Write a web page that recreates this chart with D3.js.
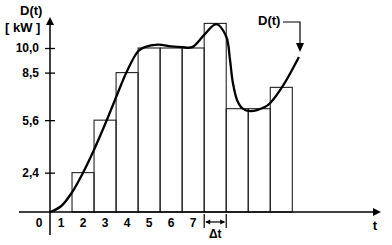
<!DOCTYPE html>
<html><head><meta charset="utf-8">
<script src="https://cdn.jsdelivr.net/npm/d3@7/dist/d3.min.js"></script>
<style>body{margin:0;background:#fff}text{font-family:"Liberation Sans",Arial,sans-serif;font-weight:bold;fill:#000}</style>
</head><body>
<svg id="c" width="392" height="245"></svg>
<script>
// Data
const barIntervals = [1,2,3,4,5,6,7,8,9,10,11];
const barValues = [0, 2.4, 5.6, 8.5, 10.0, 10.0, 10.0, 11.5, 6.3, 6.3, 7.6];
const curveT = [0, 0.5, 1, 1.5, 2, 2.5, 3, 3.5, 4, 4.3, 4.9, 5.5, 6, 6.45, 7, 7.55, 8, 8.17, 8.3, 8.5, 8.75, 9.1, 9.75, 10, 10.6, 11.3];
const curveD = [0, 0.35, 1.2, 2.4, 3.8, 5.35, 7.0, 8.6, 9.8, 10.05, 10.2, 10.1, 10.05, 10.05, 10.8, 11.45, 10.7, 9.3, 7.9, 6.8, 6.3, 6.15, 6.4, 6.65, 7.75, 9.45];
const yTickValues = [2.4, 5.6, 8.5, 10.0];
const yTickLabels = ["2,4", "5,6", "8,5", "10,0"];
const xLabels = ["0","1","2","3","4","5","6","7"];

const svg = d3.select("#c");
const x = d3.scaleLinear().domain([0, 11]).range([50, 292.3]);
const y = d3.scaleLinear().domain([0, 10]).range([212, 48]);

// bars
svg.append("g").selectAll("rect")
  .data(barIntervals.map((k,i)=>({k, v: barValues[i]})).filter(d=>d.v>0))
  .join("rect")
  .attr("x", d=>x(d.k-1)).attr("width", d=>x(d.k)-x(d.k-1))
  .attr("y", d=>y(d.v)).attr("height", d=>y(0)-y(d.v))
  .attr("fill","none").attr("stroke","#222").attr("stroke-width",1.1);

// curve
const line = d3.line().x(d=>x(d[0])).y(d=>y(d[1])).curve(d3.curveCatmullRom.alpha(0.5));
svg.append("path").datum(curveT.map((t,i)=>[t, curveD[i]]))
  .attr("d", line).attr("fill","none").attr("stroke","#000").attr("stroke-width",2.3);

// axes lines
const x0 = x(0), y0 = y(0);
svg.append("line").attr("x1",19).attr("x2",376).attr("y1",y0).attr("y2",y0).attr("stroke","#000").attr("stroke-width",1.5);
svg.append("path").attr("d",`M381,${y0} L373,${y0-4} L373,${y0+4}Z`).attr("fill","#000");
svg.append("line").attr("x1",x0).attr("x2",x0).attr("y1",235).attr("y2",23).attr("stroke","#000").attr("stroke-width",1.5);
svg.append("path").attr("d",`M${x0},17 L${x0-4},25 L${x0+4},25Z`).attr("fill","#000");

// y axis ticks
const yAxis = d3.axisLeft(y).tickValues(yTickValues).tickFormat((d,i)=>yTickLabels[i]).tickSize(5).tickPadding(6);
const gy = svg.append("g").attr("transform",`translate(${x0},0)`).call(yAxis);
gy.select(".domain").remove();
gy.selectAll(".tick line").attr("x1",5).attr("x2",-5).attr("stroke","#000").attr("stroke-width",1.3);
gy.selectAll(".tick text").attr("font-size",12).attr("font-family","Liberation Sans, Arial, sans-serif").attr("font-weight","bold").attr("fill","#000");

// x labels
svg.append("g").selectAll("text").data(xLabels).join("text")
  .attr("x",(d,i)=>x(i-0.5)).attr("y",227).attr("text-anchor","middle").attr("font-size",12).text(d=>d);

// axis titles
svg.append("text").attr("x",20).attr("y",15).attr("font-size",13).text("D(t)");
svg.append("text").attr("x",5).attr("y",32).attr("font-size",13).text("[ kW ]");
svg.append("text").attr("x",375).attr("y",230).attr("text-anchor","middle").attr("font-size",13).text("t");

// delta t
const a = x(7), b = x(8), ya = 222;
svg.append("line").attr("x1",a).attr("x2",a).attr("y1",214).attr("y2",228).attr("stroke","#000").attr("stroke-width",1.2);
svg.append("line").attr("x1",b).attr("x2",b).attr("y1",214).attr("y2",228).attr("stroke","#000").attr("stroke-width",1.2);
svg.append("line").attr("x1",a+2).attr("x2",b-2).attr("y1",ya).attr("y2",ya).attr("stroke","#000").attr("stroke-width",1.2);
svg.append("path").attr("d",`M${a+1},${ya} L${a+6},${ya-2.5} L${a+6},${ya+2.5}Z M${b-1},${ya} L${b-6},${ya-2.5} L${b-6},${ya+2.5}Z`).attr("fill","#000");
svg.append("text").attr("x",(a+b)/2).attr("y",238).attr("text-anchor","middle").attr("font-size",12).text("Δt");

// D(t) annotation
svg.append("text").attr("x",258).attr("y",25).attr("font-size",13).text("D(t)");
svg.append("path").attr("d","M283,22 L300,22 L300,44").attr("fill","none").attr("stroke","#000").attr("stroke-width",1.2);
svg.append("path").attr("d","M300,52 L296,43 L304,43Z").attr("fill","#000");
</script>
</body></html>
